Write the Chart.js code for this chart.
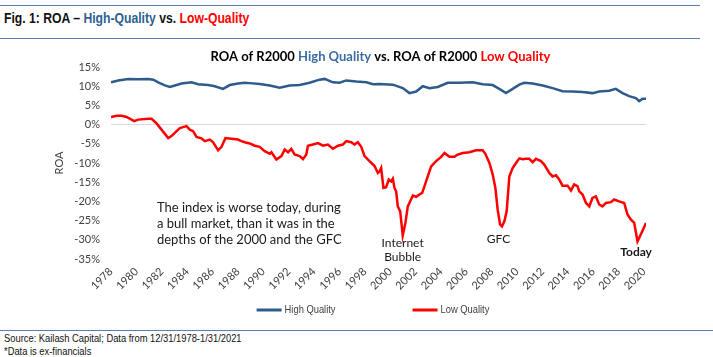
<!DOCTYPE html>
<html><head><meta charset="utf-8">
<script src="https://cdn.jsdelivr.net/npm/chart.js@4.4.1/dist/chart.umd.min.js"></script>
<style>
html,body{margin:0;padding:0;background:#fff;width:713px;height:357px;overflow:hidden;}
.rule{position:absolute;left:0;width:700px;height:1px;background:#5a7cae;}
#hdr{position:absolute;left:4px;top:10px;font:bold 14px "Liberation Sans",Arial,sans-serif;color:#111;white-space:nowrap;transform:scaleX(0.87);transform-origin:0 0;}
.foot{position:absolute;left:4px;font:11px "Liberation Sans",Arial,sans-serif;color:#111;white-space:nowrap;transform:scaleX(0.85);transform-origin:0 0;}
#wrap{position:absolute;left:0;top:40px;width:713px;height:285px;}
</style></head>
<body>
<div class="rule" style="top:5px"></div>
<div id="hdr">Fig. 1: ROA – <span style="color:#2f5f93">High-Quality</span> vs. <span style="color:#ff0000">Low-Quality</span></div>
<div class="rule" style="top:38px"></div>
<div id="wrap"><canvas id="c" width="713" height="285"></canvas></div>
<div class="rule" style="top:330px;width:713px"></div>
<div class="foot" style="top:332px">Source: Kailash Capital; Data from 12/31/1978-1/31/2021</div>
<div class="foot" style="top:345px">*Data is ex-financials</div>
<script>
// ---- data ----
const tickYears = [1978,1980,1982,1984,1986,1988,1990,1992,1994,1996,1998,2000,2002,2004,2006,2008,2010,2012,2014,2016,2018,2020];

const highYears = [1978.92,1979.49,1980.28,1981.06,1981.85,1982.25,1982.64,1983.17,1983.56,1983.95,
  1984.48,1985.27,1985.79,1986.57,1987.10,1987.75,1988.28,1988.93,1989.46,1989.85,
  1990.64,1991.43,1992.21,1993.00,1993.79,1994.57,1995.36,1995.75,1996.41,1996.93,
  1997.46,1998.25,1999.04,1999.56,2000.08,2001.13,2001.91,2002.44,2002.97,2003.49,
  2004.02,2004.67,2005.46,2006.38,2007.43,2008.21,2009.00,2009.52,2010.05,2010.57,
  2011.10,2011.49,2012.15,2012.93,2013.72,2014.50,2015.29,2016.08,2016.86,2017.39,
  2018.18,2018.70,2019.23,2019.75,2020.28,2020.54,2020.80,2021.08];
const highQuality = [11.0,11.5,11.9,11.8,11.9,11.7,11.0,10.2,9.8,10.2,
  10.7,11.0,10.5,10.3,10.0,9.3,10.3,10.7,10.9,10.8,
  10.6,10.2,9.6,10.2,10.3,10.9,11.7,11.9,11.0,10.9,
  11.5,11.2,11.0,10.5,10.6,10.4,9.5,8.2,8.6,10.0,
  9.5,9.8,10.9,10.9,11.0,10.5,10.3,9.3,8.2,9.3,
  10.4,10.9,10.7,10.2,9.5,8.7,8.6,8.5,8.2,8.6,
  8.8,9.3,8.2,7.4,6.9,6.1,6.7,6.7];

const lowYears = [1978.92,1979.37,1979.76,1980.15,1980.75,1981.06,1981.85,1982.12,1982.51,1982.90,
  1983.43,1983.69,1984.09,1984.35,1984.87,1985.13,1985.39,1985.66,1986.05,1986.31,
  1986.71,1986.97,1987.36,1987.63,1987.94,1988.41,1988.93,1989.20,1989.46,1989.85,
  1990.25,1990.64,1991.03,1991.43,1991.56,1991.95,1992.35,1992.61,1992.87,1993.13,
  1993.39,1993.79,1994.05,1994.31,1994.44,1994.83,1995.23,1995.62,1996.01,1996.41,
  1996.80,1997.19,1997.46,1997.85,1998.11,1998.37,1998.64,1998.90,1999.29,1999.69,
  1999.95,2000.08,2000.21,2000.39,2000.60,2000.81,2001.00,2001.13,2001.26,2001.39,
  2001.52,2001.71,2001.91,2002.12,2002.31,2002.49,2002.70,2002.97,2003.23,2003.44,
  2003.62,2003.88,2004.15,2004.54,2004.94,2005.20,2005.59,2005.98,2006.24,2006.64,
  2007.16,2007.69,2008.21,2008.42,2008.74,2009.00,2009.21,2009.39,2009.58,2009.73,
  2009.92,2010.10,2010.31,2010.57,2010.84,2011.10,2011.36,2011.62,2011.88,2012.15,
  2012.41,2012.80,2013.06,2013.46,2013.72,2013.99,2014.24,2014.50,2014.90,2015.17,
  2015.42,2015.68,2015.82,2016.08,2016.35,2016.61,2016.86,2017.13,2017.39,2017.65,
  2017.92,2018.31,2018.57,2018.96,2019.36,2019.62,2019.88,2020.15,2020.41,2020.67,
  2021.08];
const lowQuality = [2.0,2.3,2.3,2.0,0.9,1.3,1.5,1.5,0.3,-1.3,
  -3.5,-3.0,-1.7,-0.9,-0.4,-1.3,-1.7,-3.2,-3.6,-4.3,
  -3.9,-4.6,-6.7,-5.8,-3.5,-3.7,-3.9,-4.3,-4.6,-4.9,
  -5.5,-5.8,-6.9,-7.6,-7.2,-9.1,-8.2,-6.5,-7.2,-6.3,
  -7.8,-8.2,-9.0,-7.8,-5.5,-5.2,-4.8,-5.5,-5.2,-6.3,
  -5.5,-5.2,-4.3,-4.6,-5.2,-4.6,-5.8,-8.2,-9.5,-10.8,
  -12.6,-12.2,-11.3,-16.5,-16.3,-14.3,-14.8,-14.1,-16.5,-17.4,
  -21.3,-22.6,-28.9,-25.6,-21.3,-20.0,-18.5,-18.8,-18.2,-17.8,
  -16.1,-13.5,-10.9,-9.5,-8.4,-7.4,-8.4,-8.4,-7.8,-7.4,
  -7.2,-6.7,-6.7,-7.6,-10.0,-13.0,-16.5,-22.1,-26.0,-26.5,
  -25.2,-22.6,-13.5,-11.3,-10.0,-8.8,-9.0,-8.9,-8.9,-9.8,
  -8.9,-9.5,-10.4,-12.6,-13.5,-13.2,-14.3,-15.9,-15.9,-17.2,
  -15.6,-16.0,-17.4,-18.2,-20.4,-21.3,-19.1,-18.7,-20.8,-21.3,
  -20.4,-20.2,-19.5,-20.0,-20.4,-23.4,-24.7,-25.6,-30.4,-28.6,
  -25.6];

const titleParts = [['ROA of R2000 ', '#000000'], ['High Quality', '#3a6ca3'], [' vs. ROA of R2000 ', '#000000'], ['Low Quality', '#ff0000']];
const notes = [
  {text:'The index is worse today, during', x:1982.54, y:-21.6, align:'left', bold:false},
  {text:'a bull market, than it was in the', x:1982.54, y:-25.8, align:'left', bold:false},
  {text:'depths of the 2000 and the GFC', x:1982.54, y:-30.0, align:'left', bold:false},
  {text:'Internet', x:2001.9, y:-30.9, align:'center', bold:false, small:true},
  {text:'Bubble', x:2001.9, y:-34.5, align:'center', bold:false, small:true},
  {text:'GFC', x:2009.45, y:-29.8, align:'center', bold:false, small:true},
  {text:'Today', x:2020.3, y:-33.2, align:'center', bold:true, small:true}
];

const FONT = 'Lato, "Open Sans", sans-serif';
const NARROW = '"Liberation Sans", Arial, sans-serif';

const titlePlugin = {
  id: 'mixedTitle',
  afterDraw(chart) {
    const ctx = chart.ctx, a = chart.chartArea;
    ctx.save();
    ctx.font = 'bold 13px ' + FONT;
    ctx.textBaseline = 'middle';
    let total = 0;
    titleParts.forEach(p => total += ctx.measureText(p[0]).width);
    let x = (a.left + a.right) / 2 + 2 - total / 2;
    titleParts.forEach(p => { ctx.fillStyle = p[1]; ctx.textAlign = 'left'; ctx.fillText(p[0], x, 17); x += ctx.measureText(p[0]).width; });
    ctx.restore();
  }
};
const notesPlugin = {
  id: 'notes',
  afterDraw(chart) {
    const ctx = chart.ctx, xs = chart.scales.x, ys = chart.scales.y;
    ctx.save();
    ctx.textBaseline = 'middle';
    notes.forEach(n => {
      ctx.font = (n.bold ? 'bold ' : '') + (n.small ? '12px ' : '13px ') + FONT;
      ctx.fillStyle = '#1a1a1a';
      ctx.textAlign = n.align;
      ctx.fillText(n.text, xs.getPixelForValue(n.x), ys.getPixelForValue(n.y));
    });
    ctx.restore();
  }
};
const legendPlugin = {
  id: 'lineLegend',
  afterDraw(chart) {
    const ctx = chart.ctx;
    const sx = 0.85;
    ctx.save();
    ctx.font = '11px ' + NARROW;
    ctx.textBaseline = 'middle';
    const ds = chart.data.datasets;
    const widths = ds.map(d => 25 + 3 + ctx.measureText(d.label).width * sx);
    const gap = 77;
    const total = widths.reduce((s, w) => s + w, 0) + gap * (ds.length - 1);
    let x = 373 - total / 2;
    const y = 270;
    ds.forEach((d, i) => {
      ctx.strokeStyle = d.borderColor; ctx.lineWidth = 3;
      ctx.beginPath(); ctx.moveTo(x, y); ctx.lineTo(x + 25, y); ctx.stroke();
      ctx.save();
      ctx.translate(x + 28, y); ctx.scale(sx, 1);
      ctx.fillStyle = '#404040'; ctx.textAlign = 'left';
      ctx.fillText(d.label, 0, 0);
      ctx.restore();
      x += widths[i] + gap;
    });
    ctx.restore();
  }
};

new Chart(document.getElementById('c'), {
  type: 'line',
  data: {
    datasets: [
      { label: 'High Quality', data: highYears.map((x, i) => ({x, y: highQuality[i]})), borderColor: '#2e5b8c', backgroundColor: '#2e5b8c', borderWidth: 2.5, pointRadius: 0, tension: 0 },
      { label: 'Low Quality', data: lowYears.map((x, i) => ({x, y: lowQuality[i]})), borderColor: '#ff0000', backgroundColor: '#ff0000', borderWidth: 2.5, pointRadius: 0, tension: 0 }
    ]
  },
  options: {
    responsive: false, animation: false, devicePixelRatio: 1,
    layout: { padding: { left: 53, right: 67, top: 27, bottom: 20 } },
    plugins: { legend: { display: false }, tooltip: { enabled: false }, title: { display: false } },
    scales: {
      x: {
        type: 'linear', min: 1978.92, max: 2021.08,
        afterBuildTicks(s) { s.ticks = tickYears.map(y => ({ value: y + 0.92 })); },
        ticks: { autoSkip: false, minRotation: 45, maxRotation: 45, padding: 6, color: '#404040',
          font: { family: FONT, size: 11 }, callback: v => String(Math.floor(v + 0.001)) },
        grid: { display: false, drawTicks: false }, border: { display: false },
        afterFit(s) { s.height = 46; }
      },
      y: {
        min: -35, max: 15,
        ticks: { stepSize: 5, color: '#404040', font: { family: FONT, size: 11 }, padding: 11, callback: v => v + '%' },
        grid: { drawTicks: false, color: c => (c.tick && c.tick.value === 0) ? '#d9d9d9' : 'rgba(0,0,0,0)' },
        border: { display: false },
        title: { display: true, text: 'ROA', color: '#404040', font: { family: FONT, size: 11 }, padding: { top: 0, bottom: 0 } },
        afterFit(s) { s.width = 58; }
      }
    }
  },
  plugins: [titlePlugin, notesPlugin, legendPlugin]
});
</script>
</body></html>
